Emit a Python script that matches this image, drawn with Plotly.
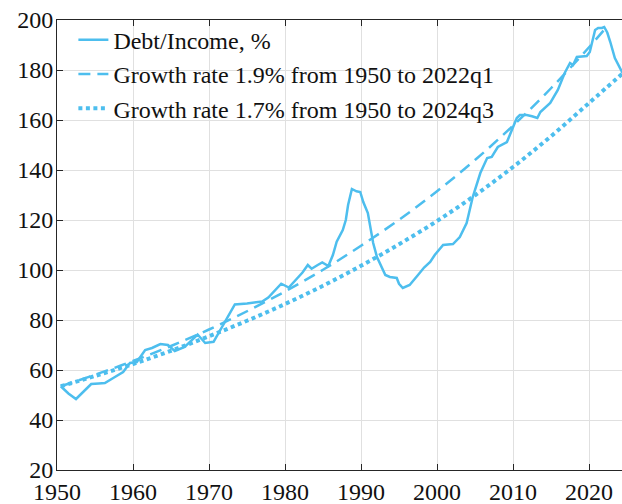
import plotly.graph_objects as go

# Debt/Income, %
years = [1950.5, 1951.5, 1952.5, 1953.5, 1954.5, 1955.5, 1956.3, 1957.4, 1958.7, 1959.6,
         1960.5, 1961.6, 1962.5, 1963.6, 1964.6, 1965.5, 1966.8, 1968.5, 1969.5, 1970.6,
         1971.5, 1972.2, 1973.4, 1975.0, 1977.0, 1977.8, 1978.6, 1979.5, 1980.5, 1981.5,
         1982.3, 1983.0, 1983.5, 1984.3, 1984.9, 1985.7, 1986.3, 1986.8, 1987.6, 1988.0,
         1988.3, 1988.8, 1989.4, 1989.9, 1990.3, 1990.9, 1991.2, 1991.6, 1992.1, 1992.7,
         1993.2, 1993.8, 1994.7, 1995.0, 1995.5, 1996.4, 1997.0, 1997.5, 1998.3, 1999.1,
         1999.7, 2000.3, 2000.8, 2002.1, 2003.0, 2003.9, 2004.7, 2005.7, 2006.6, 2007.2,
         2008.0, 2009.2, 2009.9, 2010.5, 2010.9, 2011.8, 2012.5, 2013.2, 2013.6, 2014.9,
         2015.9, 2016.8, 2017.5, 2017.9, 2018.4, 2019.7, 2020.1, 2020.8, 2021.2, 2021.7,
         2022.0, 2022.4, 2022.8, 2023.4, 2024.2, 2024.6]
debt_income = [53.5, 50.6, 48.4, 51.4, 54.4, 54.6, 54.8, 56.8, 59.2, 62.8,
               63.2, 68.0, 68.8, 70.4, 70.0, 67.6, 69.2, 74.2, 70.8, 71.3,
               76.0, 80.0, 86.2, 86.6, 87.4, 89.0, 91.5, 94.5, 93.0, 96.5,
               99.0, 102.0, 100.5, 102.0, 103.0, 101.6, 106.0, 111.3, 116.0, 120.0,
               126.0, 132.4, 131.5, 131.2, 127.2, 122.8, 117.0, 110.8, 105.2, 101.0,
               98.0, 97.2, 96.8, 94.5, 92.8, 94.0, 96.0, 98.0, 101.0, 103.2,
               106.0, 108.0, 110.0, 110.4, 113.2, 118.8, 129.2, 138.8, 144.8, 145.2,
               149.2, 151.2, 156.0, 160.8, 162.0, 162.0, 161.5, 160.8, 163.2, 166.8,
               172.0, 178.8, 182.8, 182.0, 185.2, 185.6, 187.2, 196.0, 196.8, 196.8,
               197.2, 195.0, 191.2, 184.8, 180.0, 178.0]

# Trend 1.9% from 1950 to 2022q1
trend1_years = [1950.5, 1955, 1960, 1965, 1970, 1975, 1980, 1985, 1990, 1995,
                2000, 2005, 2010, 2015, 2020, 2022.25]
trend1_vals = [53.5, 58.1, 63.6, 69.6, 76.2, 83.5, 91.4, 100.1, 109.7, 120.1,
               131.5, 144.0, 157.7, 172.7, 189.1, 197.0]

# Trend 1.7% from 1950 to 2024q3
trend2_years = [1950.5, 1955, 1960, 1965, 1970, 1975, 1980, 1985, 1990, 1995,
                2000, 2005, 2010, 2015, 2020, 2024.75]
trend2_vals = [53.5, 57.6, 62.4, 67.7, 73.5, 79.7, 86.4, 93.7, 101.7, 110.3,
               119.6, 129.9, 141.2, 153.5, 166.8, 179.5]

x_ticks = [1950, 1960, 1970, 1980, 1990, 2000, 2010, 2020]
y_ticks = [20, 40, 60, 80, 100, 120, 140, 160, 180, 200]

COLOR = "#4DBEEE"
FONT = "Liberation Serif"

fig = go.Figure()
fig.add_trace(go.Scatter(x=years, y=debt_income, mode="lines",
                         name="Debt/Income, %",
                         line=dict(color=COLOR, width=2.5)))
fig.add_trace(go.Scatter(x=trend1_years, y=trend1_vals, mode="lines",
                         name="Growth rate 1.9% from 1950 to 2022q1",
                         line=dict(color=COLOR, width=2.5, dash="12px,7px", shape="spline")))
fig.add_trace(go.Scatter(x=trend2_years, y=trend2_vals, mode="lines",
                         name="Growth rate 1.7% from 1950 to 2024q3",
                         line=dict(color=COLOR, width=4, dash="4px,3.5px", shape="spline")))

fig.update_layout(
    template="none",
    width=622, height=504,
    margin=dict(l=57, r=0, t=20, b=34),
    paper_bgcolor="white", plot_bgcolor="white",
    font=dict(family=FONT, size=24, color="#111111"),
    showlegend=True,
    legend=dict(x=0.029, y=1.005, xanchor="left", yanchor="top",
                bgcolor="rgba(0,0,0,0)", borderwidth=0,
                font=dict(family=FONT, size=24, color="#111111")),
)
fig.update_xaxes(range=[1950, 2024.34], tickvals=x_ticks, ticktext=[str(v) for v in x_ticks],
                 tickfont=dict(family=FONT, size=24, color="#111111"),
                 showgrid=True, gridcolor="#e0e0e0", gridwidth=1,
                 showline=True, linecolor="#262626", linewidth=1, mirror="ticks",
                 ticks="inside", ticklen=6, tickcolor="#262626", zeroline=False,
                 ticklabeloverflow="allow")
fig.update_yaxes(range=[20, 200], tickvals=y_ticks, ticktext=[str(v) for v in y_ticks],
                 tickfont=dict(family=FONT, size=24, color="#111111"),
                 showgrid=True, gridcolor="#e0e0e0", gridwidth=1,
                 showline=True, linecolor="#262626", linewidth=1, mirror=False,
                 ticks="inside", ticklen=6, tickcolor="#262626", zeroline=False,
                 ticklabelstandoff=-2, ticklabeloverflow="allow")

# remove the default 8px page margin so the figure fills the 622x504 window exactly
fig.write_html("out.html", config={"displayModeBar": False},
               post_script="document.body.style.margin='0px';")
